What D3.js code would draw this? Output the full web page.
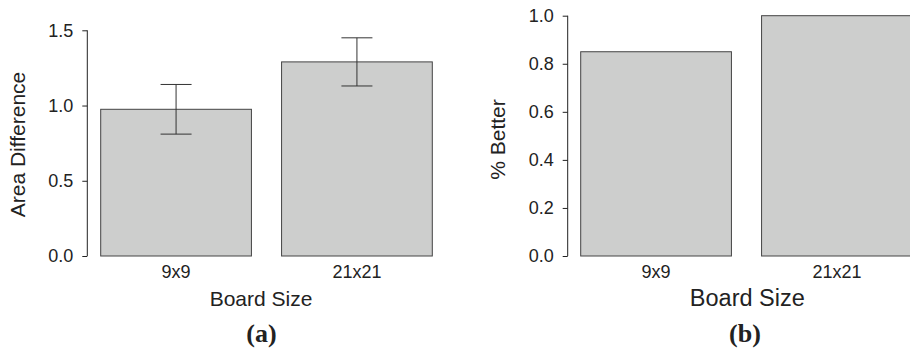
<!DOCTYPE html>
<html>
<head>
<meta charset="utf-8">
<script src="https://cdn.jsdelivr.net/npm/d3@7"></script>
<style>
body { margin: 0; background: #fff; }
text { font-family: "Liberation Sans", Arial, sans-serif; fill: #222; }
</style>
</head>
<body>
<svg class="graph" width="910" height="349"></svg>
<script>
// data
var boardSizes = ["9x9", "21x21"];
var areaDiff = [0.975, 1.29];
var areaLow = [0.81, 1.13];
var areaHigh = [1.14, 1.45];
var areaTicks = [0, 0.5, 1.0, 1.5];
var pctBetter = [0.85, 1.0];
var pctTicks = [0, 0.2, 0.4, 0.6, 0.8, 1.0];

var svg = d3.select(".graph");

function panel(o) {
  var g = svg.append("g");
  var x = d3.scaleBand().domain(boardSizes).range(o.xr).paddingInner(0.2 / 1.2).paddingOuter(0);
  var y = d3.scaleLinear().domain(o.yd).range([256, o.ytop]);

  // y axis, R style: line only between first and last tick
  var ax = g.append("g").attr("transform", "translate(" + o.axX + ",0)")
    .call(d3.axisLeft(y).tickValues(o.ticks).tickSize(5).tickPadding(9)
      .tickFormat(d3.format(".1f")));
  ax.select(".domain").remove();
  ax.selectAll(".tick line").attr("stroke", "#222");
  ax.selectAll(".tick text").style("font-size", "18px").attr("fill", "#222");
  ax.append("line").attr("x1", 0).attr("x2", 0)
    .attr("y1", y(o.ticks[0])).attr("y2", y(o.ticks[o.ticks.length - 1]))
    .attr("stroke", "#222");

  g.selectAll(".bar").data(o.vals).enter().append("rect")
    .attr("x", function(d, i) { return x(boardSizes[i]); })
    .attr("y", function(d) { return y(d); })
    .attr("width", x.bandwidth())
    .attr("height", function(d) { return y(0) - y(d); })
    .attr("fill", "#cdcecd").attr("stroke", "#444").attr("stroke-width", 1);

  if (o.lo) {
    o.vals.forEach(function(v, i) {
      var cx = x(boardSizes[i]) + x.bandwidth() / 2;
      g.append("line").attr("x1", cx).attr("x2", cx)
        .attr("y1", y(o.lo[i])).attr("y2", y(o.hi[i])).attr("stroke", "#333");
      [o.lo[i], o.hi[i]].forEach(function(e) {
        g.append("line").attr("x1", cx - 15.5).attr("x2", cx + 15.5)
          .attr("y1", y(e)).attr("y2", y(e)).attr("stroke", "#333");
      });
    });
  }

  g.selectAll(".xl").data(boardSizes).enter().append("text")
    .attr("x", function(d) { return x(d) + x.bandwidth() / 2; })
    .attr("y", 277.5).attr("text-anchor", "middle").style("font-size", "18px")
    .text(function(d) { return d; });

  g.append("text").attr("x", o.xtX).attr("y", 306).attr("text-anchor", "middle")
    .style("font-size", o.xtSize).text("Board Size");

  g.append("text").attr("transform", "translate(" + o.ytX + "," + o.ytY + ") rotate(-90)")
    .attr("text-anchor", "middle").style("font-size", "21px").text(o.ytitle);

  g.append("text").attr("x", o.capX).attr("y", 342).attr("text-anchor", "middle")
    .style("font-family", "'Liberation Serif', 'Times New Roman', serif")
    .style("font-weight", "bold").style("font-size", "26px").attr("fill", "#111")
    .text(o.caption);
}

panel({ xr: [100.7, 432.3], yd: [0, 1.5], ytop: 30.3, axX: 87.3, ticks: areaTicks,
  vals: areaDiff, lo: areaLow, hi: areaHigh, xtX: 261, xtSize: "21px",
  ytX: 25, ytY: 144.5, ytitle: "Area Difference", capX: 261.5, caption: "(a)" });

panel({ xr: [580.7, 912.3], yd: [0, 1.0], ytop: 15.7, axX: 567.7, ticks: pctTicks,
  vals: pctBetter, xtX: 747.3, xtSize: "23.5px",
  ytX: 505, ytY: 139.5, ytitle: "% Better", capX: 745, caption: "(b)" });
</script>
</body>
</html>
